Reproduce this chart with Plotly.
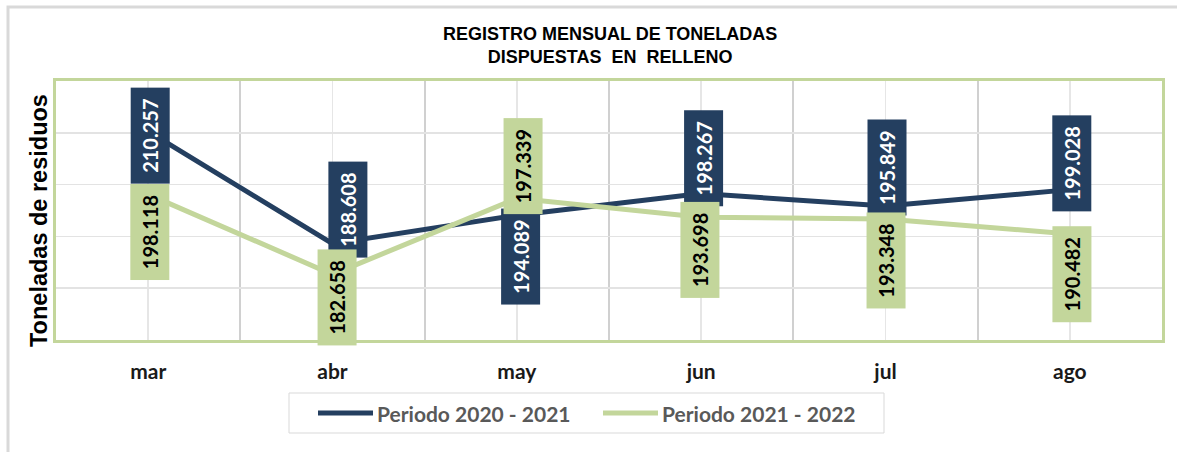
import plotly.graph_objects as go

# ---- data ----
categories = ["mar", "abr", "may", "jun", "jul", "ago"]
series_names = ["Periodo 2020 - 2021", "Periodo 2021 - 2022"]
values_2020_2021 = [210.257, 188.608, 194.089, 198.267, 195.849, 199.028]
values_2021_2022 = [198.118, 182.658, 197.339, 193.698, 193.348, 190.482]
title_lines = ["REGISTRO MENSUAL DE TONELADAS", "DISPUESTAS\u00a0\u00a0EN\u00a0\u00a0RELLENO"]
y_title = "Toneladas de residuos"

# ---- styles / positions ----
W, H = 1177, 452
L, R, T, B = 56, 15, 81, 112
PW, PH = W - L - R, H - T - B
DARK = "#243f60"
LIGHT = "#c3d69b"
LABEL_FONT = "Lato, 'Open Sans', sans-serif"
# label offsets in pixels (positive yshift = up)
dark_yshift = [-4.5, 34, -41, 35, 38.6, 26.6]
dark_xshift = [2, 15, 4, 2, 1, 2]
light_yshift = [-38, -23, 32.6, -33, -41.4, -40]
light_xshift = [2, 5, 6, -1, 1, 2]


def px_x(px):
    return (px - L) / PW


def px_y(py):
    return (H - B - py) / PH


xs = list(range(len(categories)))

fig = go.Figure()
fig.add_trace(go.Scatter(x=xs, y=values_2020_2021, mode="lines", name=series_names[0],
                         line=dict(color=DARK, width=5), showlegend=False, hoverinfo="skip"))
fig.add_trace(go.Scatter(x=xs, y=values_2021_2022, mode="lines", name=series_names[1],
                         line=dict(color=LIGHT, width=5), showlegend=False, hoverinfo="skip"))

annotations = []
for vals, ysh, xsh, bg, fc in [
    (values_2020_2021, dark_yshift, dark_xshift, DARK, "white"),
    (values_2021_2022, light_yshift, light_xshift, LIGHT, "black"),
]:
    for i, v in enumerate(vals):
        annotations.append(dict(
            x=i, y=v, xref="x", yref="y", text=f"<b>{v:.3f}</b>", showarrow=False,
            textangle=-90, xanchor="center", yanchor="middle",
            xshift=xsh[i], yshift=ysh[i],
            bgcolor=bg, font=dict(family=LABEL_FONT, size=20, color=fc),
            width=85, height=28, borderpad=5, align="center", valign="middle",
        ))

# title
annotations.append(dict(
    x=px_x(610), y=px_y(45), xref="paper", yref="paper", showarrow=False,
    text="<b>" + "<br>".join(title_lines) + "</b>", xanchor="center", yanchor="middle",
    font=dict(family="'Liberation Sans Narrow', 'Arial Narrow', 'Liberation Sans', Arial", size=18, color="black"),
    align="center",
))
# y axis title
annotations.append(dict(
    x=px_x(39), y=px_y(221), xref="paper", yref="paper", showarrow=False,
    text=f"<b>{y_title}</b>", textangle=-90, xanchor="center", yanchor="middle",
    font=dict(family="'Liberation Sans', Arial, sans-serif", size=23.5, color="black"),
))

# manual legend
shapes = [
    dict(type="rect", xref="paper", yref="paper", x0=px_x(8), x1=1.3, y0=-0.7, y1=px_y(7),
         line=dict(color="#d9d9d9", width=3), layer="below"),
    dict(type="rect", xref="paper", yref="paper", x0=px_x(289), x1=px_x(884), y0=px_y(433), y1=px_y(393),
         line=dict(color="#d9d9d9", width=1), fillcolor="white", layer="below"),
]
legend_items = [(series_names[0], DARK, 318), (series_names[1], LIGHT, 603)]
for name, col, x0 in legend_items:
    shapes.append(dict(type="line", xref="paper", yref="paper", x0=px_x(x0), x1=px_x(x0 + 55),
                       y0=px_y(413), y1=px_y(413), line=dict(color=col, width=5)))
    annotations.append(dict(
        x=px_x(x0 + 57), y=px_y(413), xref="paper", yref="paper", showarrow=False,
        text=f"<b>{name}</b>", xanchor="left", yanchor="middle",
        font=dict(family=LABEL_FONT, size=21, color="#595959"),
    ))

fig.update_layout(
    width=W, height=H,
    margin=dict(l=L, r=R, t=T, b=B, autoexpand=False),
    paper_bgcolor="white", plot_bgcolor="white",
    showlegend=False,
    annotations=annotations, shapes=shapes,
)
fig.update_xaxes(
    range=[-0.5, len(categories) - 0.5], tickvals=xs, ticktext=categories,
    showgrid=True, gridcolor="#e6e6e6", gridwidth=1.5,
    minor=dict(tickvals=[i + 0.5 for i in range(-1, len(categories))], showgrid=True,
               gridcolor="#d0d0d0", gridwidth=2),
    ticks="outside", ticklen=11, tickcolor="rgba(0,0,0,0)",
    tickfont=dict(family=LABEL_FONT, size=21, color="#1a1a1a", weight="bold"),
    showline=True, mirror=True, linecolor=LIGHT, linewidth=3, zeroline=False,
)
fig.update_yaxes(
    range=[170, 220], dtick=10, showticklabels=False, ticks="",
    showgrid=True, gridcolor="#e3e3e3", gridwidth=1.5,
    showline=True, mirror=True, linecolor=LIGHT, linewidth=3, zeroline=False,
)

fig.write_html("out.html", config={"displayModeBar": False, "staticPlot": True},
               post_script="document.body.style.margin='0';document.body.style.overflow='hidden';")
